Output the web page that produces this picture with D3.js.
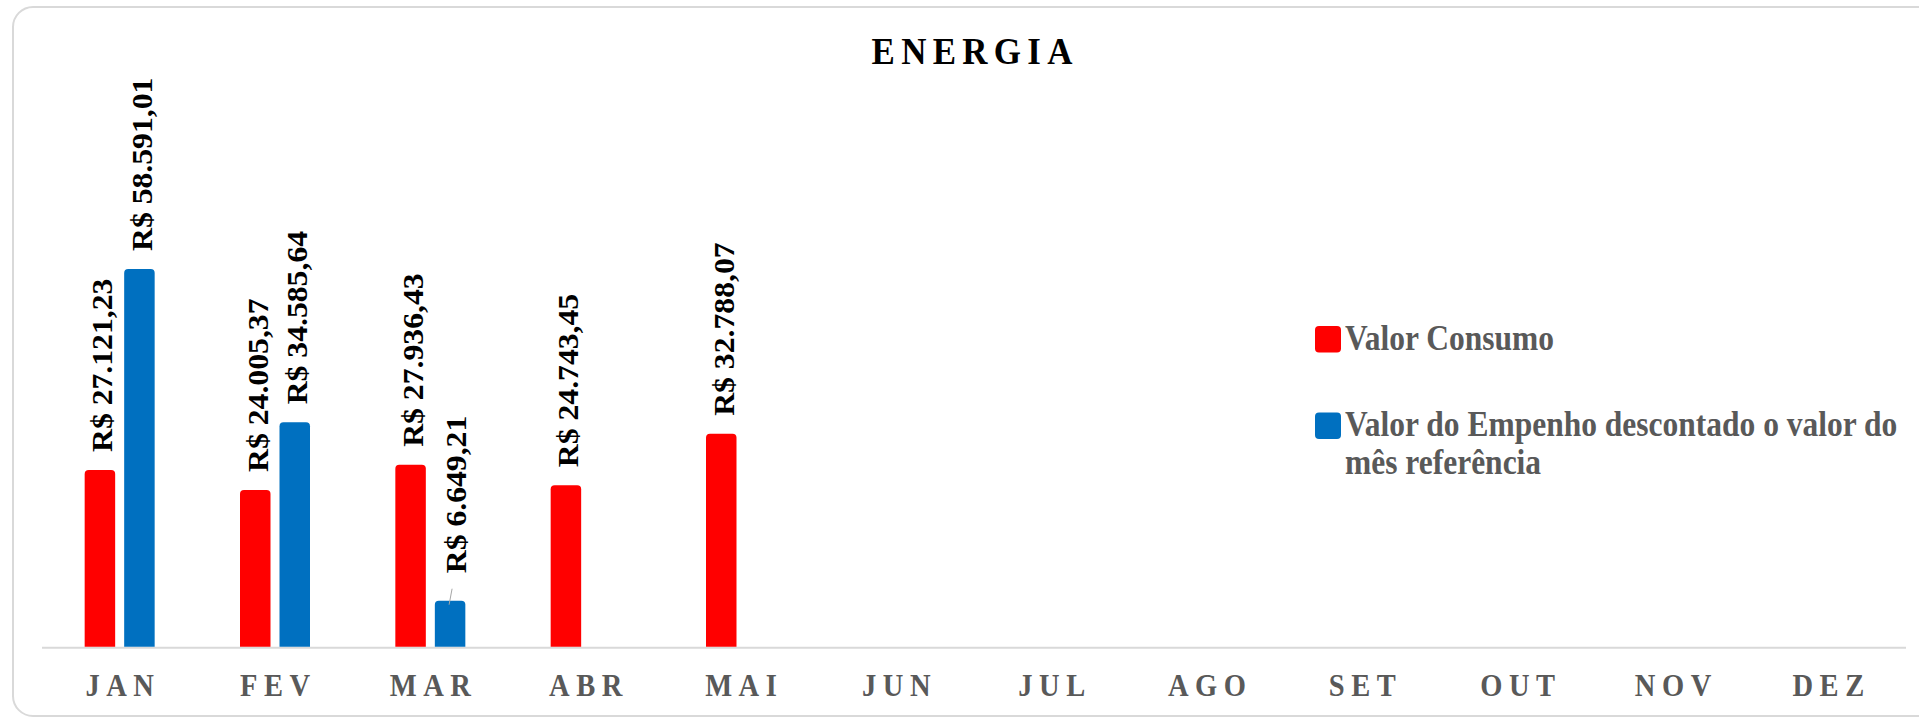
<!DOCTYPE html>
<html>
<head>
<meta charset="utf-8">
<script src="https://cdn.jsdelivr.net/npm/d3@7"></script>
<style>
  html, body { margin: 0; padding: 0; background: #ffffff; }
  svg { display: block; }
  text { font-family: "Liberation Serif", "Times New Roman", serif; font-weight: bold; }
</style>
</head>
<body>
<svg id="chart" width="1919" height="718"></svg>
<script>
const months = ["JAN","FEV","MAR","ABR","MAI","JUN","JUL","AGO","SET","OUT","NOV","DEZ"];
const seriesNames = ["Valor Consumo", "Valor do Empenho descontado o valor do mês referência"];
const valorConsumo = [27121.23, 24005.37, 27936.43, 24743.45, 32788.07, null, null, null, null, null, null, null];
const valorEmpenho = [58591.01, 34585.64, 6649.21, null, null, null, null, null, null, null, null, null];
const seriesColors = ["#FF0000", "#0070C0"];
const chartTitle = "ENERGIA";

const SX = 0.9; // horizontal squeeze of the original rendering
const FONT = "'Liberation Serif', 'Times New Roman', serif";
const svg = d3.select("#chart");

// frame
svg.append("rect")
  .attr("x", 13).attr("y", 7).attr("width", 1940).attr("height", 709)
  .attr("rx", 20).attr("ry", 20)
  .attr("fill", "#fff").attr("stroke", "#D9D9D9").attr("stroke-width", 2);

// title
const titleSpacing = 7;
svg.append("text")
  .attr("transform", `translate(${972 + titleSpacing * SX / 2},64) scale(${SX},1)`)
  .attr("text-anchor", "middle")
  .attr("font-family", FONT)
  .attr("font-size", 38.8)
  .attr("letter-spacing", titleSpacing)
  .attr("fill", "#000")
  .text(chartTitle);

// scales
const plotLeft = 42, plotRight = 1906, axisY = 647.7;
const x0 = d3.scaleBand().domain(months).range([plotLeft, plotRight]);
const groupW = 70;
const x1 = d3.scaleBand().domain(seriesNames).range([0, groupW]).paddingInner(0.228);
const y = d3.scaleLinear().domain([0, 60000]).range([643.2, 260.0]);

const fmt = v => "R$ " + d3.format(",.2f")(v).replace(/,/g, "#").replace(/\./g, ",").replace(/#/g, ".");

const data = [];
months.forEach((m, i) => {
  [valorConsumo, valorEmpenho].forEach((arr, s) => {
    if (arr[i] != null) data.push({ month: m, series: seriesNames[s], value: arr[i], color: seriesColors[s] });
  });
});

const barX = d => x0(d.month) + (x0.bandwidth() - groupW) / 2 + x1(d.series);
const bw = x1.bandwidth();

// axis line
svg.append("line")
  .attr("x1", plotLeft).attr("x2", plotRight)
  .attr("y1", axisY).attr("y2", axisY)
  .attr("stroke", "#D9D9D9").attr("stroke-width", 2);

// bars with rounded top corners
const r = 4;
svg.append("g").selectAll("path").data(data).join("path")
  .attr("d", d => {
    const x = barX(d), top = y(d.value), b = axisY - 1;
    return `M${x},${b} L${x},${top + r} Q${x},${top} ${x + r},${top} L${x + bw - r},${top} Q${x + bw},${top} ${x + bw},${top + r} L${x + bw},${b} Z`;
  })
  .attr("fill", d => d.color);

// data labels
const labelFont = 31.7;
const baseOff = 12.4;
const labels = svg.append("g");
data.forEach(d => {
  const cx = barX(d) + bw / 2;
  const moved = d.value < 10000;
  const gap = moved ? 27.5 : 18;
  const shift = moved ? 4 : 0;
  if (moved) {
    labels.append("line")
      .attr("x1", cx - 1).attr("y1", y(d.value) + 4)
      .attr("x2", cx + 2).attr("y2", y(d.value) - 12)
      .attr("stroke", "#A6A6A6").attr("stroke-width", 1);
  }
  labels.append("text")
    .attr("transform", `translate(${cx + shift + baseOff},${y(d.value) - gap}) scale(${SX},1) rotate(-90)`)
    .attr("text-anchor", "start")
    .attr("font-family", FONT)
    .attr("font-size", labelFont)
    .attr("fill", "#000")
    .text(fmt(d.value));
});

// x axis labels
const axisSpacing = 7.3;
const axis = svg.append("g")
  .attr("transform", `translate(0,${axisY})`)
  .call(d3.axisBottom(x0).tickSize(0).tickPadding(0));
axis.select(".domain").remove();
axis.attr("font-family", FONT);
axis.selectAll("text")
  .attr("y", 0).attr("dy", 0)
  .attr("transform", `translate(${axisSpacing * SX / 2},48.3) scale(${SX},1)`)
  .attr("font-size", 31.7)
  .attr("font-family", FONT)
  .attr("font-weight", "bold")
  .attr("letter-spacing", axisSpacing)
  .attr("fill", "#595959");

// legend
const legend = svg.append("g");
const legendItems = [
  { color: seriesColors[0], y: 326, lines: [seriesNames[0]] },
  { color: seriesColors[1], y: 412.5, lines: ["Valor do Empenho descontado o valor do", "mês referência"] }
];
legendItems.forEach(it => {
  legend.append("rect")
    .attr("x", 1315).attr("y", it.y).attr("width", 26).attr("height", 26.5)
    .attr("rx", 4).attr("fill", it.color);
  it.lines.forEach((ln, k) => {
    legend.append("text")
      .attr("transform", `translate(1345,${it.y + 23.5 + k * 37.7}) scale(${SX},1)`)
      .attr("font-family", FONT)
      .attr("font-size", 35)
      .attr("fill", "#595959")
      .text(ln);
  });
});
</script>
</body>
</html>
